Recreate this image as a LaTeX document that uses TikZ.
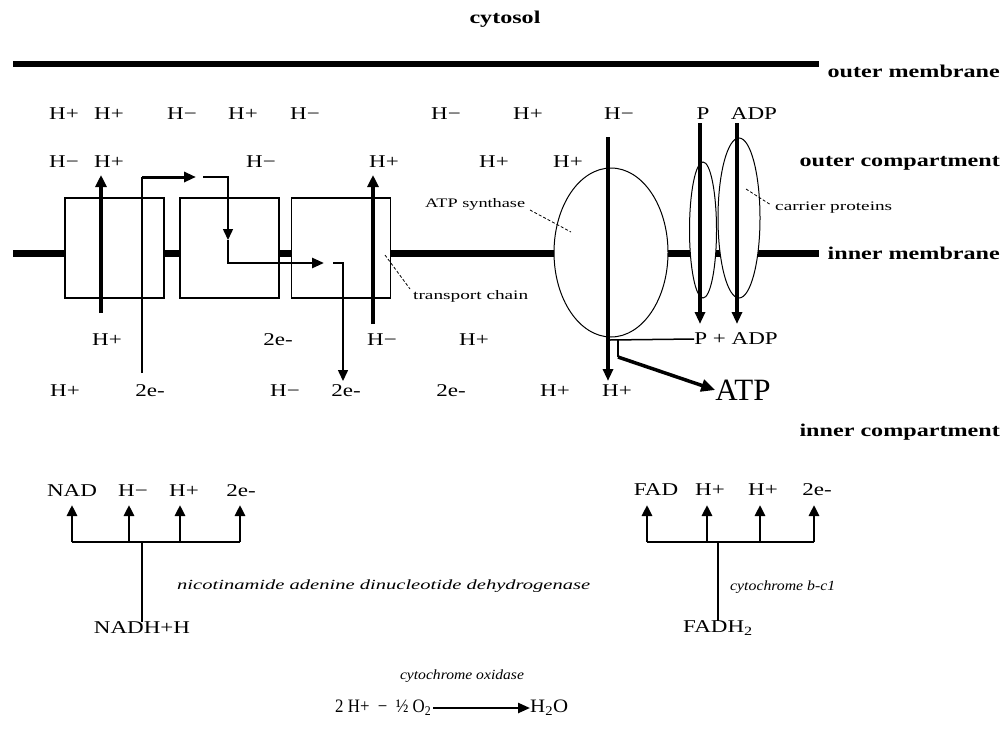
\documentclass[tikz,border=0pt]{standalone}
\usepackage{fontspec}
\setmainfont{Liberation Serif}
\usepackage{graphicx}
\usetikzlibrary{arrows.meta,shapes.geometric}
\newcommand{\sx}[1]{\scalebox{1.28}[1]{#1}}
\newcommand{\bx}[1]{\scalebox{1.34}[1]{#1}}
\newcommand{\fw}[2]{\resizebox{#1}{\height}{#2}}
\begin{document}
\begin{tikzpicture}[x=1pt,y=-1pt,
  lab/.style={inner sep=0pt, font=\fontsize{18}{20}\selectfont},
  bl/.style={inner sep=0pt, font=\bfseries\fontsize{18}{20}\selectfont},
  sm/.style={inner sep=0pt, font=\fontsize{13}{15}\selectfont},
  itl/.style={inner sep=0pt, font=\itshape\fontsize{14}{16}\selectfont},
  omem/.style={line width=5.5pt},
  imem/.style={line width=7pt},
  boxn/.style={draw, line width=1.6pt, fill=white, inner sep=0pt, minimum width=99pt, minimum height=100pt},
  elln/.style={draw, ellipse, line width=1pt, fill=white, inner sep=0pt},
  thk/.style={line width=4.5pt, -{Triangle[length=12pt,width=11pt]}},
  med/.style={line width=3.2pt, -{Triangle[length=12pt,width=10pt]}},
  thn/.style={line width=1.5pt},
  thna/.style={line width=1.5pt, -{Triangle[length=11pt,width=10pt]}},
  brk/.style={line width=2.8pt, -{Triangle[length=11pt,width=10pt]}},
  lead/.style={line width=0.8pt, densely dashed}]
\useasboundingbox (0,0) rectangle (1003,728);

% membranes
\coordinate (om1) at (13,64); \coordinate (om2) at (819,64);
\draw[omem] (om1) -- (om2);
\coordinate (im1) at (13,253); \coordinate (im2) at (819,253);
\draw[imem] (im1) -- (im2);

% transport chain boxes
\node[boxn] (b1) at (114.5,248) {};
\node[boxn] (b2) at (229.5,248) {};
\node[boxn] (b3) at (341,248) {};

% ATP synthase and carriers
\node[elln, minimum width=114pt, minimum height=169pt] (atps) at (611,252.5) {};
\node[elln, minimum width=27pt, minimum height=136pt] (car1) at (703,230) {};
\node[elln, minimum width=42pt, minimum height=160pt] (car2) at (739,218) {};

% region labels
\node[bl] (cyto) at (505,19) {\bx{cytosol}};
\node[bl, anchor=east] (omtxt) at (1000,71) {\bx{outer membrane}};
\node[bl, anchor=east] (octxt) at (1000,163) {\bx{outer compartment}};
\node[bl, anchor=east] (imtxt) at (1000,253) {\bx{inner membrane}};
\node[bl, anchor=east] (ictxt) at (1000,432) {\bx{inner compartment}};

% row 1
\node[lab] (r1a) at (64,114) {\sx{H+}};
\node[lab] (r1b) at (109,114) {\sx{H+}};
\node[lab] (r1c) at (182,114) {\sx{H−}};
\node[lab] (r1d) at (243,114) {\sx{H+}};
\node[lab] (r1e) at (305,114) {\sx{H−}};
\node[lab] (r1f) at (446,114) {\sx{H−}};
\node[lab] (r1g) at (528,114) {\sx{H+}};
\node[lab] (r1h) at (619,114) {\sx{H−}};
\node[lab] (r1i) at (703,114) {\sx{P}};
\node[lab] (r1j) at (754,114) {\sx{ADP}};
% row 2
\node[lab] (r2a) at (64,162) {\sx{H−}};
\node[lab] (r2b) at (109,162) {\sx{H+}};
\node[lab] (r2c) at (261,162) {\sx{H−}};
\node[lab] (r2d) at (384,162) {\sx{H+}};
\node[lab] (r2e) at (494,162) {\sx{H+}};
\node[lab] (r2f) at (568,162) {\sx{H+}};
% row 3
\node[lab] (r3a) at (107,340) {\sx{H+}};
\node[lab] (r3b) at (278,340) {\sx{2e-}};
\node[lab] (r3c) at (382,340) {\sx{H−}};
\node[lab] (r3d) at (474,340) {\sx{H+}};
\node[lab] (pad) at (736,339) {\sx{P + ADP}};
% row 4
\node[lab] (r4a) at (65,391) {\sx{H+}};
\node[lab] (r4b) at (150,391) {\sx{2e-}};
\node[lab] (r4c) at (285,391) {\sx{H−}};
\node[lab] (r4d) at (346,391) {\sx{2e-}};
\node[lab] (r4e) at (451,391) {\sx{2e-}};
\node[lab] (r4f) at (555,391) {\sx{H+}};
\node[lab] (r4g) at (617,391) {\sx{H+}};
\node[inner sep=0pt, font=\fontsize{31}{33}\selectfont] (atp) at (743,390) {ATP};

% small labels with leaders
\node[sm, anchor=west] (atpslab) at (425,204) {\fw{100pt}{ATP synthase}};
\node[sm, anchor=west] (tclab) at (413,296) {\fw{115pt}{transport chain}};
\node[sm, anchor=west] (cplab) at (775,208) {\fw{117pt}{carrier proteins}};
\coordinate (l1a) at (530,210); \coordinate (l1b) at (571,232);
\draw[lead] (l1a) -- (l1b);
\coordinate (l2a) at (385,255); \coordinate (l2b) at (410,289);
\draw[lead] (l2a) -- (l2b);
\coordinate (l3a) at (746,189); \coordinate (l3b) at (771,205);
\draw[lead] (l3a) -- (l3b);

% proton arrows through the chain
\coordinate (p1s) at (101,313); \coordinate (p1e) at (101,175);
\draw[thk] (p1s) -- (p1e);
\coordinate (p2s) at (373,324); \coordinate (p2e) at (373,175);
\draw[thk] (p2s) -- (p2e);

% electron path
\coordinate (e1s) at (142,373); \coordinate (e1c) at (142,177); \coordinate (e1e) at (196,177);
\draw[thn] (e1s) -- (e1c);
\draw[line width=3pt, -{Triangle[length=12pt,width=10pt]}] (e1c) -- (e1e);
\coordinate (e2s) at (203,177); \coordinate (e2m) at (228,240); \coordinate (e2e) at (324,263);
\draw[thna] (e2s) -| (e2m);
\draw[line width=2.6pt, -{Triangle[length=12pt,width=10pt]}] (e2m) |- (e2e);
\coordinate (e3s) at (333,263); \coordinate (e3e) at (343,381);
\draw[thna] (e3s) -| (e3e);

% ATP synthase proton flow
\coordinate (p3s) at (608,137); \coordinate (p3e) at (608,381);
\draw[med] (p3s) -- (p3e);
% carriers
\coordinate (pas) at (700,123); \coordinate (pae) at (700,324);
\draw[med] (pas) -- (pae);
\coordinate (ads) at (737,123); \coordinate (ade) at (737,324);
\draw[med] (ads) -- (ade);

% P + ADP -> ATP
\coordinate (q0) at (610,340); \coordinate (q1) at (618,340); \coordinate (q2) at (618,357);
\draw[thn] (pad.west) -- (q0);
\draw[thn] (q1) -- (q2);
\draw[line width=3.5pt, -{Triangle[length=14pt,width=12pt]}] (q2) -- (atp.west);

% NAD group
\node[lab] (nad) at (72,491) {\sx{NAD}};
\node[lab] (nh1) at (133,491) {\sx{H−}};
\node[lab] (nh2) at (184,491) {\sx{H+}};
\node[lab] (ne) at (241,491) {\sx{2e-}};
\node[lab] (nadh) at (142,628) {\sx{NADH+H}};
\coordinate (nb1) at (72,542); \coordinate (nb2) at (129,542);
\coordinate (nb3) at (180,542); \coordinate (nb4) at (240,542);
\coordinate (nbc) at (142,542);
\draw[line width=2.8pt] (nb1) -- (nb4);
\draw[brk] (nb1) -- (nb1 |- 0,505);
\draw[brk] (nb2) -- (nb2 |- 0,505);
\draw[brk] (nb3) -- (nb3 |- 0,505);
\draw[brk] (nb4) -- (nb4 |- 0,505);
\draw[thn] (nbc) -- (nadh.north);
\node[itl, anchor=west] (nadlab) at (177,586) {\fw{413pt}{nicotinamide adenine dinucleotide dehydrogenase}};

% FAD group
\node[lab] (fad) at (656,490) {\sx{FAD}};
\node[lab] (fh1) at (710,490) {\sx{H+}};
\node[lab] (fh2) at (763,490) {\sx{H+}};
\node[lab] (fe) at (817,490) {\sx{2e-}};
\node[lab] (fadh) at (718,628) {\sx{FADH\textsubscript{2}}};
\coordinate (fb1) at (647,542); \coordinate (fb2) at (707,542);
\coordinate (fb3) at (760,542); \coordinate (fb4) at (814,542);
\coordinate (fbc) at (718,542);
\draw[line width=2.8pt] (fb1) -- (fb4);
\draw[brk] (fb1) -- (fb1 |- 0,505);
\draw[brk] (fb2) -- (fb2 |- 0,505);
\draw[brk] (fb3) -- (fb3 |- 0,505);
\draw[brk] (fb4) -- (fb4 |- 0,505);
\draw[thn] (fbc) -- (fadh.north);
\node[itl, anchor=west] (fadlab) at (730,587) {\fw{105pt}{cytochrome b-c1}};

% cytochrome oxidase
\node[itl] (coxlab) at (462,676) {\fw{124pt}{cytochrome oxidase}};
\node[inner sep=0pt, font=\fontsize{19}{21}\selectfont, anchor=west] (eql) at (335,708) {\fw{96pt}{2 H+ \ − \ ½ O\textsubscript{2}}};
\node[inner sep=0pt, font=\fontsize{19}{21}\selectfont, anchor=west] (eqr) at (530,708) {\fw{38pt}{H\textsubscript{2}O}};
\draw[line width=2.4pt, -{Triangle[length=12pt,width=10pt]}] (eql.east) ++(2,0) -- (eqr.west);
\end{tikzpicture}
\end{document}
